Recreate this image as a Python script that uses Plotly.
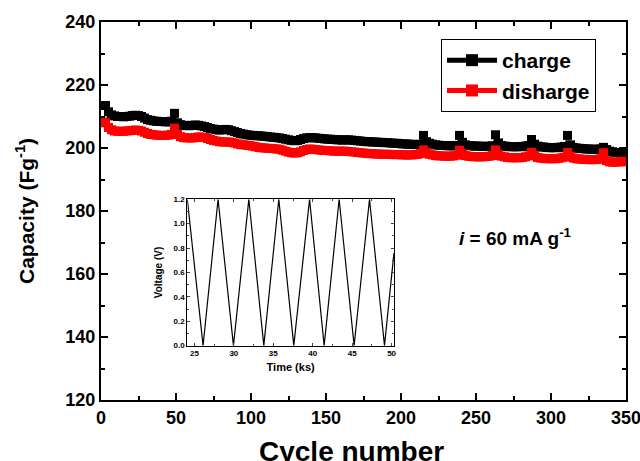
import plotly.graph_objects as go

# ---------------- data ----------------
cycles = list(range(1, 350, 2))

charge = [
    213.5, 213.5, 211.5, 210.5,
    210.2, 210.0, 210.0, 209.9, 210.0, 210.1,
    210.3, 210.4, 210.3, 210.0,
    209.5, 209.0, 208.8, 208.6, 208.5, 208.4, 208.4, 208.3, 208.3,
    208.5, 211.0, 208.0,
    207.4, 207.2, 207.1, 207.1, 207.2, 207.3, 207.2, 207.0, 206.8,
    206.5, 206.2, 206.0, 205.8, 205.7, 205.8, 205.9, 205.8, 205.5, 205.2,
    204.9, 204.6, 204.4, 204.2, 204.1, 204.0, 203.9, 203.9, 203.8, 203.7, 203.6, 203.5, 203.4, 203.3, 203.2,
    203.0, 202.8, 202.6, 202.4, 202.3, 202.4, 202.7, 203.0, 203.2, 203.3,
    203.3, 203.2, 203.1, 203.0, 202.9, 202.8, 202.8, 202.7, 202.6, 202.6, 202.5, 202.6, 202.6, 202.5, 202.4,
    202.3, 202.2, 202.1, 202.0, 202.0, 201.9, 201.9, 201.8, 201.8, 201.7, 201.7, 201.6, 201.5, 201.5, 201.4,
    201.3, 201.3, 201.2, 201.2, 201.1, 201.1, 201.2,
    204.0, 202.0,
    201.5, 201.2, 201.0, 200.9, 200.8, 200.8, 200.7, 200.7, 200.7, 200.8,
    204.0, 201.8,
    201.0, 200.8, 200.7, 200.6, 200.6, 200.6, 200.5, 200.5, 200.6, 200.7,
    204.2, 201.6,
    200.8, 200.6, 200.5, 200.4, 200.4, 200.4, 200.4, 200.5, 200.6, 200.8,
    202.7, 201.2,
    200.6, 200.4, 200.3, 200.2, 200.1, 200.1, 200.1, 200.2, 200.3, 200.5,
    204.0, 201.0,
    200.2, 200.0, 199.9, 199.8, 199.7, 199.7, 199.6, 199.6, 199.6, 199.7,
    200.2, 199.5,
    199.0, 198.8, 198.6, 198.5, 198.5, 198.4,
]

discharge = [
    208.3, 208.0, 206.5, 205.8,
    205.4, 205.3, 205.3, 205.3, 205.4, 205.5,
    205.6, 205.7, 205.6, 205.4,
    205.0, 204.6, 204.3, 204.2, 204.1, 204.0, 204.0, 204.0, 204.1,
    204.3, 206.3, 204.3,
    203.6, 203.3, 203.2, 203.2, 203.2, 203.3, 203.5, 203.5, 203.3,
    203.0, 202.7, 202.4, 202.2, 202.0, 201.9, 201.9, 201.9, 201.8, 201.6,
    201.3, 201.1, 201.0, 200.9, 200.8, 200.6, 200.4, 200.2, 200.1, 200.0, 199.9, 199.9, 199.8, 199.7, 199.6,
    199.3, 199.0, 198.7, 198.5, 198.4, 198.5, 198.8, 199.2, 199.5, 199.7,
    199.6, 199.5, 199.4, 199.3, 199.2, 199.2, 199.1, 199.0, 199.0, 199.0, 199.0, 199.0, 198.9, 198.8, 198.7,
    198.6, 198.5, 198.4, 198.3, 198.2, 198.2, 198.1, 198.1, 198.0, 198.0, 198.0, 198.0, 197.9, 197.9, 197.9,
    197.8, 197.8, 197.8, 197.8, 197.9, 198.0, 198.2,
    199.4, 198.5,
    198.0, 197.8, 197.6, 197.5, 197.5, 197.4, 197.4, 197.4, 197.5, 197.7,
    199.3, 198.2,
    197.6, 197.4, 197.3, 197.2, 197.2, 197.2, 197.2, 197.3, 197.4, 197.6,
    199.4, 198.0,
    197.4, 197.2, 197.0, 196.9, 196.9, 196.9, 196.9, 197.0, 197.2, 197.5,
    198.6, 197.6,
    197.0, 196.8, 196.7, 196.6, 196.6, 196.6, 196.6, 196.7, 196.9, 197.1,
    198.6, 197.4,
    196.8, 196.6, 196.5, 196.4, 196.4, 196.3, 196.3, 196.3, 196.4, 196.6,
    198.5, 196.0,
    195.6, 195.5, 195.5, 195.6, 195.8, 195.6,
]

inset_time_ks = [24.1, 26.1, 28.0, 29.95, 31.9, 33.8, 35.7, 37.6, 39.6,
                 41.45, 43.35, 45.25, 47.2, 49.1, 50.3]
inset_voltage = [1.2, 0.0, 1.2, 0.0, 1.2, 0.0, 1.2, 0.0, 1.2,
                 0.0, 1.2, 0.0, 1.2, 0.0, 0.76]

x_ticks = [0, 50, 100, 150, 200, 250, 300, 350]
y_ticks = [120, 140, 160, 180, 200, 220, 240]
inset_x_ticks = [25, 30, 35, 40, 45, 50]
inset_y_ticks = [0.0, 0.2, 0.4, 0.6, 0.8, 1.0, 1.2]

assert len(charge) == len(cycles) == len(discharge)

FONT = "Liberation Sans, Arial, sans-serif"

fig = go.Figure()
fig.add_trace(go.Scatter(
    x=cycles, y=charge, name="charge", mode="lines+markers",
    line=dict(color="black", width=1),
    marker=dict(symbol="square", size=9, color="black", line=dict(width=0)),
))
fig.add_trace(go.Scatter(
    x=cycles, y=discharge, name="disharge", mode="lines+markers",
    line=dict(color="#ff0000", width=1),
    marker=dict(symbol="square", size=9, color="#ff0000", line=dict(width=0)),
))
fig.add_trace(go.Scatter(
    x=inset_time_ks, y=inset_voltage, mode="lines", showlegend=False,
    line=dict(color="black", width=1.2), xaxis="x2", yaxis="y2",
))

axis_common = dict(
    showline=True, linecolor="black", mirror="ticks", ticks="inside",
    showgrid=False, zeroline=False, automargin=False,
)

fig.update_layout(
    width=640, height=461,
    margin=dict(l=101, r=14, t=22, b=61),
    paper_bgcolor="white", plot_bgcolor="white",
    font=dict(family=FONT, color="black"),
    xaxis=dict(
        **axis_common, range=[0, 350], tickvals=x_ticks, linewidth=2,
        ticklen=7, tickwidth=1.5, tickcolor="black", ticklabeloverflow="allow",
        minor=dict(dtick=25, ticklen=4, tickwidth=1.5, ticks="inside", tickcolor="black"),
        tickfont=dict(size=18, weight="bold", family=FONT),
    ),
    yaxis=dict(
        **axis_common, range=[120, 240], tickvals=y_ticks, linewidth=2,
        ticklen=7, tickwidth=1.5, tickcolor="black",
        minor=dict(dtick=10, ticklen=4, tickwidth=1.5, ticks="inside", tickcolor="black"),
        tickfont=dict(size=18, weight="bold", family=FONT),
    ),
    xaxis2=dict(
        **axis_common, domain=[0.1644, 0.558], anchor="y2", range=[24.1, 50.3],
        tickvals=inset_x_ticks, linewidth=1, ticklen=3, tickwidth=1,
        minor=dict(dtick=2.5, ticklen=2, ticks="inside", tickwidth=1),
        tickfont=dict(size=8, weight="bold", family=FONT),
        title=dict(text="<b>Time (ks)</b>", font=dict(size=11), standoff=6),
    ),
    yaxis2=dict(
        **axis_common, domain=[0.1437, 0.531], anchor="x2", range=[0, 1.2],
        tickvals=inset_y_ticks, tickformat=".1f", linewidth=1, ticklen=3, tickwidth=1,
        minor=dict(dtick=0.1, ticklen=2, ticks="inside", tickwidth=1),
        tickfont=dict(size=8, weight="bold", family=FONT),
        title=dict(text="<b>Voltage (V)</b>", font=dict(size=10), standoff=9),
    ),
    legend=dict(
        x=0.6476, y=0.955, xanchor="left", yanchor="top",
        bordercolor="black", borderwidth=1, bgcolor="white",
        font=dict(size=21, weight="bold", family=FONT),
        tracegroupgap=0, itemsizing="constant", itemwidth=50,
    ),
    annotations=[
        dict(text="<b>Cycle number</b>", xref="paper", yref="paper",
             x=0.478, y=-0.135, xanchor="center", yanchor="middle",
             showarrow=False, font=dict(size=28, family=FONT)),
        dict(text="<b>Capacity (Fg<sup>-1</sup>)</b>", xref="paper", yref="paper",
             x=-0.1448, y=0.5, xanchor="center", yanchor="middle", textangle=-90,
             showarrow=False, font=dict(size=21, family=FONT)),
        dict(text="<b><i>i</i> = 60 mA g<sup>-1</sup></b>", xref="paper", yref="paper",
             x=0.789, y=0.431, xanchor="center", yanchor="middle",
             showarrow=False, font=dict(size=19, family=FONT)),
    ],
)

fig.write_html("out.html", config={"displayModeBar": False},
               post_script="document.body.style.margin='0';")
